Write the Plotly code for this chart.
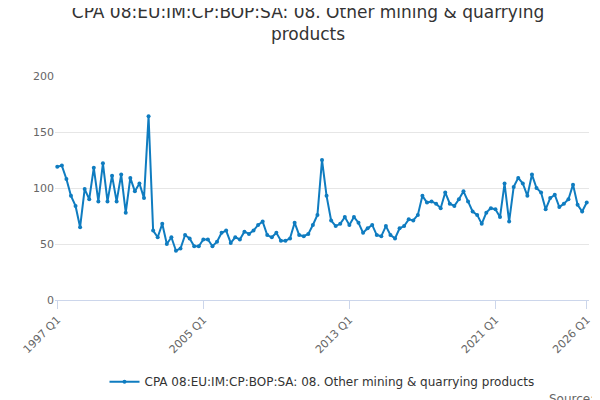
import plotly.graph_objects as go

# quarterly index values, 1997 Q1 .. 2026 Q1
values = [119, 120, 108, 93, 84, 65, 99, 90, 118, 88, 122, 88, 111, 88, 112, 78,
          109, 97, 104, 91, 164, 62, 56, 68, 50, 56, 44, 46, 58, 55, 48, 48,
          54, 54, 48, 52, 60, 62, 51, 56, 54, 61, 59, 62, 67, 70, 58, 56,
          60, 53, 53, 55, 69, 58, 57, 59, 67, 76, 125, 93, 71, 66, 68, 74,
          67, 74, 69, 60, 64, 67, 58, 57, 66, 58, 55, 64, 66, 72, 71, 76,
          93, 87, 88, 86, 82, 96, 86, 84, 90, 97, 88, 79, 76, 68, 78, 82,
          81, 74, 104, 70, 101, 109, 104, 93, 112, 100, 96, 81, 91, 94, 83, 86,
          90, 103, 85, 79, 87]
quarters = ["%d Q%d" % (1997 + i // 4, i % 4 + 1) for i in range(len(values))]
tick_labels = ["1997 Q1", "2005 Q1", "2013 Q1", "2021 Q1", "2026 Q1"]
series_name = "CPA 08:EU:IM:CP:BOP:SA: 08. Other mining & quarrying products"

fig = go.Figure()
fig.add_trace(go.Scatter(
    x=quarters, y=values, name=series_name, mode="lines+markers",
    line=dict(color="#0f7cc0", width=2), marker=dict(size=4, color="#0f7cc0"),
    showlegend=True))

fig.update_layout(
    width=600, height=400,
    font=dict(family="DejaVu Sans", color="#333"),
    title=dict(text="CPA 08:EU:IM:CP:BOP:SA: 08. Other mining & quarrying<br>products",
               x=0.5, xanchor="center", y=0.975, yanchor="top", font=dict(size=17)),
    margin=dict(l=47, r=19, t=68, b=103),
    plot_bgcolor="white", paper_bgcolor="white",
    xaxis=dict(type="category", tickvals=tick_labels, ticktext=tick_labels,
               tickangle=-45, showgrid=False, showline=True, linecolor="#ccd6eb",
               ticks="outside", tickcolor="#ccd6eb", ticklen=8, automargin=False,
               tickfont=dict(size=11, color="#666"), range=[-0.5, 116.5]),
    yaxis=dict(range=[0, 200], dtick=50, gridcolor="#e6e6e6", zeroline=False,
               automargin=False, tickfont=dict(size=11, color="#666")),
    legend=dict(orientation="h", x=0.5, xanchor="center", y=-0.3, yanchor="top",
                font=dict(size=12)),
)
fig.add_annotation(text="Source:", xref="paper", yref="paper", x=1.013, y=-0.4,
                   xanchor="right", yanchor="top", showarrow=False,
                   font=dict(size=12, color="#666"))

fig.write_html("out.html")
